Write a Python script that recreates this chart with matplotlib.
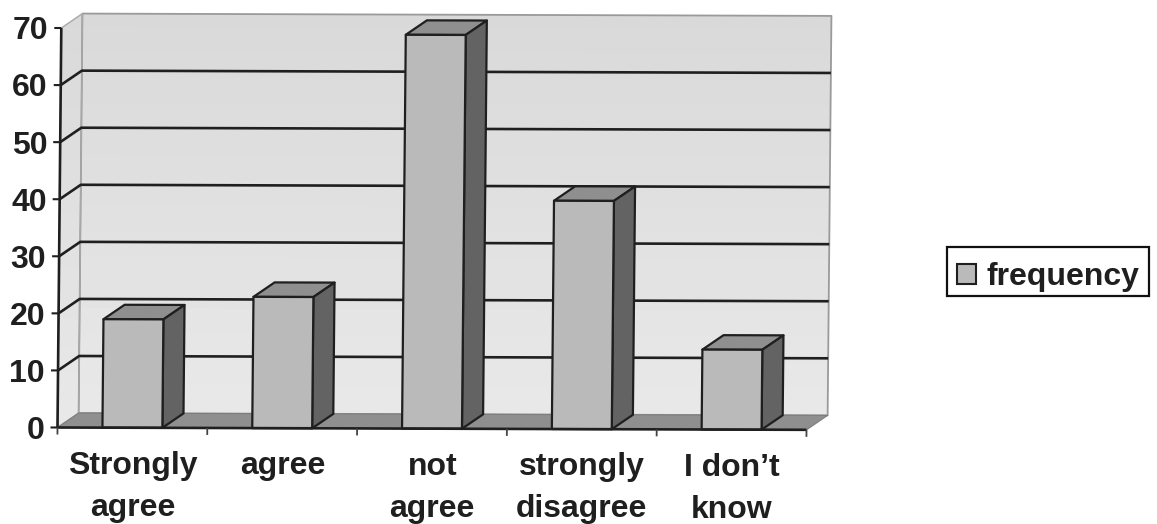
import matplotlib
matplotlib.use('Agg')
import matplotlib.pyplot as plt
import numpy as np
from matplotlib.patches import Polygon, Patch
from matplotlib.transforms import Affine2D

plt.rcParams['font.family'] = ['Liberation Sans', 'DejaVu Sans']

categories = ['Strongly\nagree', 'agree', 'not\nagree', 'strongly\ndisagree', 'I don\u2019t\nknow']
frequency = [19, 23, 69, 40, 14]
y_ticks = [0, 10, 20, 30, 40, 50, 60, 70]
legend_label = 'frequency'

W, H = 1157, 524
X0, Y0 = 57.5, 96.5     # axis origin in pixels, from the bottom left
PX_X = 149.8            # pixels per category
PX_Y = 5.707            # pixels per unit of frequency
DX = 21 / PX_X          # depth of the 3d box
DY = 14.5 / PX_Y
BAR_W = 0.40
INK = '#1f1f1f'
FONT = 23

fig = plt.figure(figsize=(W / 100, H / 100), dpi=100)
ax = fig.add_axes([0, 0, 1, 1])
xlim = (-X0 / PX_X, (W - X0) / PX_X)
ylim = (-Y0 / PX_Y, (H - Y0) / PX_Y)
ax.axis('off')

# the whole chart sits slightly skewed on the page
skew = Affine2D.from_values(1, -0.0031, 0.0095, 1, -0.0095 * Y0, 0.0031 * X0)
tr = ax.transData + skew
n = len(categories)
top = y_ticks[-1]


def poly(pts, fc, ec='none', lw=0, z=1):
    p = Polygon(pts, closed=True, fc=fc, ec=ec, lw=lw, zorder=z,
                transform=tr, joinstyle='round', clip_on=False)
    ax.add_patch(p)
    return p


def line(xs, ys, color=INK, lw=1.6, z=2):
    ax.plot(xs, ys, color=color, lw=lw, zorder=z, transform=tr, clip_on=False,
            solid_capstyle='butt')


# walls shade from grey at the top to a lighter grey at the floor
shade = np.linspace(0.85, 0.91, 64).reshape(-1, 1)
back = poly([(DX, DY), (n + DX, DY), (n + DX, top + DY), (DX, top + DY)], 'none', '#9a9a9a', 1.3, 1.2)
side = poly([(0, 0), (DX, DY), (DX, top + DY), (0, top)], 'none', '#a8a8a8', 1.0, 1.2)
for wall, ext in ((back, (DX, n + DX, DY, top + DY)), (side, (0, DX, 0, top + DY))):
    im = ax.imshow(shade, cmap='gray', vmin=0, vmax=1, origin='upper', extent=ext, aspect='auto',
                   transform=tr, zorder=1, interpolation='bilinear')
    im.set_clip_path(wall)
poly([(0, 0), (n, 0), (n + DX, DY), (DX, DY)], '#8f8f8f', '#7d7d7d', 0.8, 1.5)
ax.set_xlim(xlim)
ax.set_ylim(ylim)

# gridlines run along the back wall and down the side wall
for v in y_ticks[1:-1]:
    line([0, DX, n + DX], [v, v + DY, v + DY], lw=1.9)

# bars
for i, v in enumerate(frequency):
    c = i + 0.5
    l, r = c - BAR_W / 2, c + BAR_W / 2
    z = 3 + i * 0.1
    poly([(l, v), (r, v), (r + DX, v + DY), (l + DX, v + DY)], '#8f8f8f', INK, 1.6, z)
    poly([(r, 0), (r + DX, DY), (r + DX, v + DY), (r, v)], '#636363', INK, 1.6, z)
    poly([(l, 0), (r, 0), (r, v), (l, v)], '#bababa', INK, 1.6, z)

# axes with their tick marks
line([0, 0], [0, top], lw=1.9, z=5)
line([0, n], [0, 0], lw=1.9, z=5)
for v in y_ticks:
    line([-7 / PX_X, 0], [v, v], lw=1.5, z=5)
for i in range(n + 1):
    line([i, i], [0, -7 / PX_Y], color='#444444', lw=1.3, z=5)

for v in y_ticks:
    ax.text(-13 / PX_X, v - 0.6, str(v), ha='right', va='center', fontsize=FONT,
            fontweight='bold', color=INK, transform=tr)

for i, label in enumerate(categories):
    for j, part in enumerate(label.split('\n')):
        ax.text(i + 0.505, (-38 - 42 * j) / PX_Y, part, ha='center', va='center', fontsize=FONT,
                fontweight='bold', color=INK, transform=tr)

handle = Patch(fc='#bababa', ec=INK, lw=1.5)
leg = ax.legend([handle], [legend_label], loc='center left', bbox_to_anchor=(947 / W, 1 - 271.5 / H),
                bbox_transform=fig.transFigure, prop={'weight': 'bold', 'size': FONT},
                fancybox=False, framealpha=1, edgecolor='#111111', borderaxespad=0, borderpad=0.3,
                handlelength=0.6, handleheight=0.6, handletextpad=0.33, labelcolor=INK)
leg.get_frame().set_linewidth(1.6)
leg.set_zorder(10)
# entry sits low in its box
leg.get_texts()[0].set_y(-6)
leg.legend_handles[0].set_y(leg.legend_handles[0].get_y() - 4)

fig.savefig('out.png', dpi=100)
